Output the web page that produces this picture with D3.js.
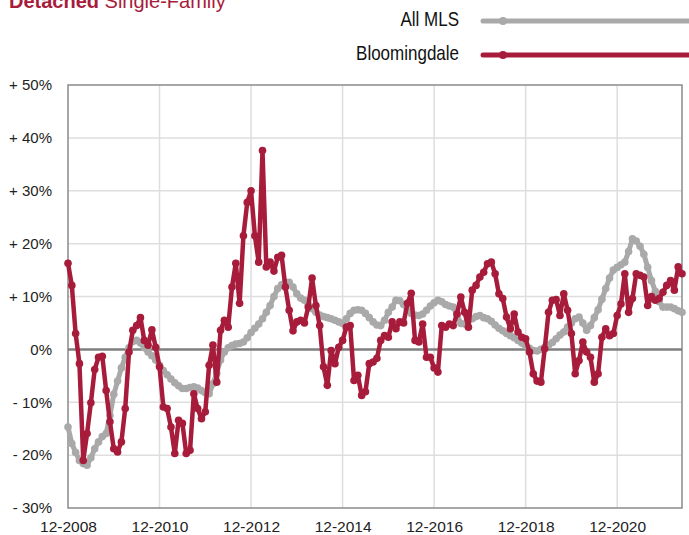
<!DOCTYPE html>
<html>
<head>
<meta charset="utf-8">
<script src="https://cdn.jsdelivr.net/npm/d3@7"></script>
<style>
  body { margin: 0; background: #fff; }
  svg { font-family: "Liberation Sans", Arial, Helvetica, sans-serif; }
</style>
</head>
<body>
<div id="chart"></div>
<script>
// Monthly year-over-year change (%), 12-2008 onward
const allMls = [
  -14.7, -17.8, -19.5, -21, -21.6, -21.9, -20.5, -18.8, -17.5, -16.5, -15.9, -12.5,
  -8.5, -6, -3.5, -1.5, 0.3, 1.5, 1.7, 1.2, 0.3, -0.5, -1.2, -2,
  -3, -4, -4.8, -5.6, -6.3, -6.9, -7.4, -7.4, -7.2, -7.1, -7.3, -7.8,
  -8.2, -8.4, -6.5, -4.5, -2, -0.5, 0.3, 0.7, 1, 1.1, 1.4, 2.2,
  3.2, 4, 4.8, 5.8, 7, 8.3, 10, 11.5, 12.2, 12.7, 12.7, 11.8,
  10.5, 9.7, 9.3, 8.5, 7.7, 7, 6.5, 6.2, 6, 5.8, 5.5, 5.2,
  4.9, 5.8, 6.8, 7.4, 7.5, 7.4, 6.8, 6, 5.2, 4.6, 4.5, 5.5,
  7, 8, 9.3, 9.2, 8.5, 7.5, 6.8, 6.5, 6.4, 6.7, 7.4, 8.2,
  8.8, 9.3, 9, 8.5, 8.2, 8, 6.5, 4.9, 4.8, 5.5, 5.8, 6.2,
  6.4, 6, 5.8, 5.3, 4.6, 4, 3.5, 3, 2.6, 2.2, 1.7, 1.2,
  0.7, 0.2, -0.2, -0.3, 0, 0.4, 0.8, 1.3, 2, 2.7, 3.3, 4.2,
  5, 5.8, 6.1, 5, 3.6, 4.5, 6, 7.5, 9.5, 11.5, 13.5, 15,
  15.5, 16, 16.5, 18.5, 20.9, 20.5, 19.5, 18, 15.5, 13, 11, 9,
  8, 8, 8, 7.7, 7.3, 7
];

const bloomingdale = [
  16.3, 12.1, 3.0, -2.7, -21, -15.9, -10.1, -3.8, -1.5, -1.3, -7.8, -13.7,
  -18.8, -19.4, -17.5, -11.2, -0.5, 3.6, 4.5, 6.0, 1.7, 0.8, 3.7, 0.4,
  -3.3, -10.9, -11.2, -14.7, -19.7, -13.4, -14, -19.7, -19.1, -8.4, -11.2, -13.1,
  -11.8, -3, 0.8, -6.2, 3.6, 5.5, 4.2, 11.8, 16.3, 8.7, 21.5, 27.8,
  30, 21.5, 16.5, 37.6, 15.6, 16.5, 14.8, 17.4, 17.8, 11.8, 7.4, 3.5,
  5.2, 5.5, 5.0, 8, 13.5, 8.3, 4.5, -3.3, -6.8, -0.2, -2.7, 0.4,
  1.7, 4.2, 4.5, -5.9, -4.9, -8.7, -8, -2.7, -2.4, -1.7, 1.7, 2.6,
  2.3, 5.2, 3.9, 5.2, 5.0, 8.7, 10.6, 1.7, 1.4, 4.8, -1.5, -1.5,
  -3.5, -4.3, 4.5, 4.2, 4.8, 4.5, 6.7, 9.9, 7, 4.2, 11.2, 12.1,
  13.7, 14.6, 16.2, 16.5, 14.3, 10.5, 9.6, 6.1, 3.9, 6.7, 3.3, 2.3,
  2.0, -0.5, -4.6, -6.0, -6.2, 0.1, 7, 9.3, 9.4, 6.4, 10.5, 7.4,
  3.0, -4.6, -2.1, 1.4, -0.5, -1.5, -6.2, -4.6, 2.3, 3.9, 2.6, 3.0,
  6.4, 8.6, 14.3, 7.0, 9.6, 14.3, 14, 13.7, 8.3, 10, 9.3, 9.6,
  10.8, 12.1, 13, 11.2, 15.6, 14.3
];

const xTickIndex = [0, 24, 48, 72, 96, 120, 144];
const xTickLabels = ["12-2008", "12-2010", "12-2012", "12-2014", "12-2016", "12-2018", "12-2020"];
const yTicks = [-30, -20, -10, 0, 10, 20, 30, 40, 50];
const seriesNames = ["All MLS", "Bloomingdale"];
const seriesColors = ["#a9a9a9", "#a81c3b"];

function buildChart() {
  const width = 689;
  const height = 535;
  const margin = { left: 68, right: 7, top: 85, bottom: 27 };
  const visWidth = width - margin.left - margin.right;
  const visHeight = height - margin.top - margin.bottom;

  const svg = d3.select("#chart")
    .append("svg")
    .attr("width", width)
    .attr("height", height);

  const xScale = d3.scaleLinear()
    .domain([0, bloomingdale.length - 1])
    .range([margin.left, margin.left + visWidth]);
  const yScale = d3.scaleLinear()
    .domain([-30, 50])
    .range([margin.top + visHeight, margin.top]);

  // title (cut off at the top in the original)
  const title = svg.append("text")
    .attr("x", 9)
    .attr("y", 8)
    .attr("font-size", 20)
    .attr("fill", "#a81c3b");
  title.append("tspan").attr("font-weight", "bold").text("Detached");
  title.append("tspan").text(" Single-Family");

  // gridlines
  svg.append("g")
    .selectAll("line")
    .data(yTicks.filter((d) => d > -30 && d < 50 && d !== 0))
    .enter()
    .append("line")
    .attr("x1", margin.left)
    .attr("x2", margin.left + visWidth)
    .attr("y1", (d) => yScale(d))
    .attr("y2", (d) => yScale(d))
    .attr("stroke", "#dedede")
    .attr("stroke-width", 1.5);

  svg.append("g")
    .selectAll("line")
    .data(xTickIndex.slice(1))
    .enter()
    .append("line")
    .attr("x1", (d) => xScale(d))
    .attr("x2", (d) => xScale(d))
    .attr("y1", margin.top)
    .attr("y2", margin.top + visHeight)
    .attr("stroke", "#dedede")
    .attr("stroke-width", 1.5);

  // frame
  svg.append("rect")
    .attr("x", margin.left)
    .attr("y", margin.top)
    .attr("width", visWidth)
    .attr("height", visHeight)
    .attr("fill", "none")
    .attr("stroke", "#8a8a8a")
    .attr("stroke-width", 1.5);

  // zero line
  svg.append("line")
    .attr("x1", margin.left)
    .attr("x2", margin.left + visWidth)
    .attr("y1", yScale(0))
    .attr("y2", yScale(0))
    .attr("stroke", "#7f7f7f")
    .attr("stroke-width", 2.5);

  // y axis
  const yAxis = d3.axisLeft(yScale)
    .tickValues(yTicks)
    .tickSize(0)
    .tickPadding(16)
    .tickFormat((d) => d > 0 ? "+ " + d + "%" : d < 0 ? "- " + (-d) + "%" : "0%");
  svg.append("g")
    .attr("transform", `translate(${margin.left}, 0)`)
    .call(yAxis)
    .call((g) => g.select(".domain").remove())
    .selectAll("text")
    .attr("font-size", 15)
    .attr("fill", "#222")
    .attr("font-family", "Liberation Sans, Arial, sans-serif");

  // x axis
  const xAxis = d3.axisBottom(xScale)
    .tickValues(xTickIndex)
    .tickSize(0)
    .tickFormat((d, i) => xTickLabels[i]);
  svg.append("g")
    .attr("transform", `translate(0, ${margin.top + visHeight})`)
    .call(xAxis)
    .call((g) => g.select(".domain").remove())
    .selectAll("text")
    .attr("y", 24)
    .attr("dy", 0)
    .attr("font-size", 15.5)
    .attr("fill", "#222")
    .attr("font-family", "Liberation Sans, Arial, sans-serif");

  // series
  const line = d3.line()
    .x((d, i) => xScale(i))
    .y((d) => yScale(d));

  [allMls, bloomingdale].forEach((values, s) => {
    const g = svg.append("g");
    g.append("path")
      .datum(values)
      .attr("d", line)
      .attr("fill", "none")
      .attr("stroke", seriesColors[s])
      .attr("stroke-width", s === 0 ? 5 : 4.5)
      .attr("stroke-linejoin", "round");
    g.selectAll("circle")
      .data(values)
      .enter()
      .append("circle")
      .attr("cx", (d, i) => xScale(i))
      .attr("cy", (d) => yScale(d))
      .attr("r", 3.8)
      .attr("fill", seriesColors[s]);
  });

  // legend
  const legendY = [21, 55];
  seriesNames.forEach((name, s) => {
    svg.append("text")
      .attr("transform", `translate(459, ${legendY[s] + 5}) scale(0.85, 1)`)
      .attr("text-anchor", "end")
      .attr("font-size", 20)
      .attr("fill", "#111")
      .text(name);
    svg.append("line")
      .attr("x1", 483)
      .attr("x2", 700)
      .attr("y1", legendY[s])
      .attr("y2", legendY[s])
      .attr("stroke", seriesColors[s])
      .attr("stroke-width", 5)
      .attr("stroke-linecap", "round");
    svg.append("circle")
      .attr("cx", 503)
      .attr("cy", legendY[s])
      .attr("r", 4)
      .attr("fill", seriesColors[s]);
  });
}

window.onload = buildChart;
</script>
</body>
</html>
